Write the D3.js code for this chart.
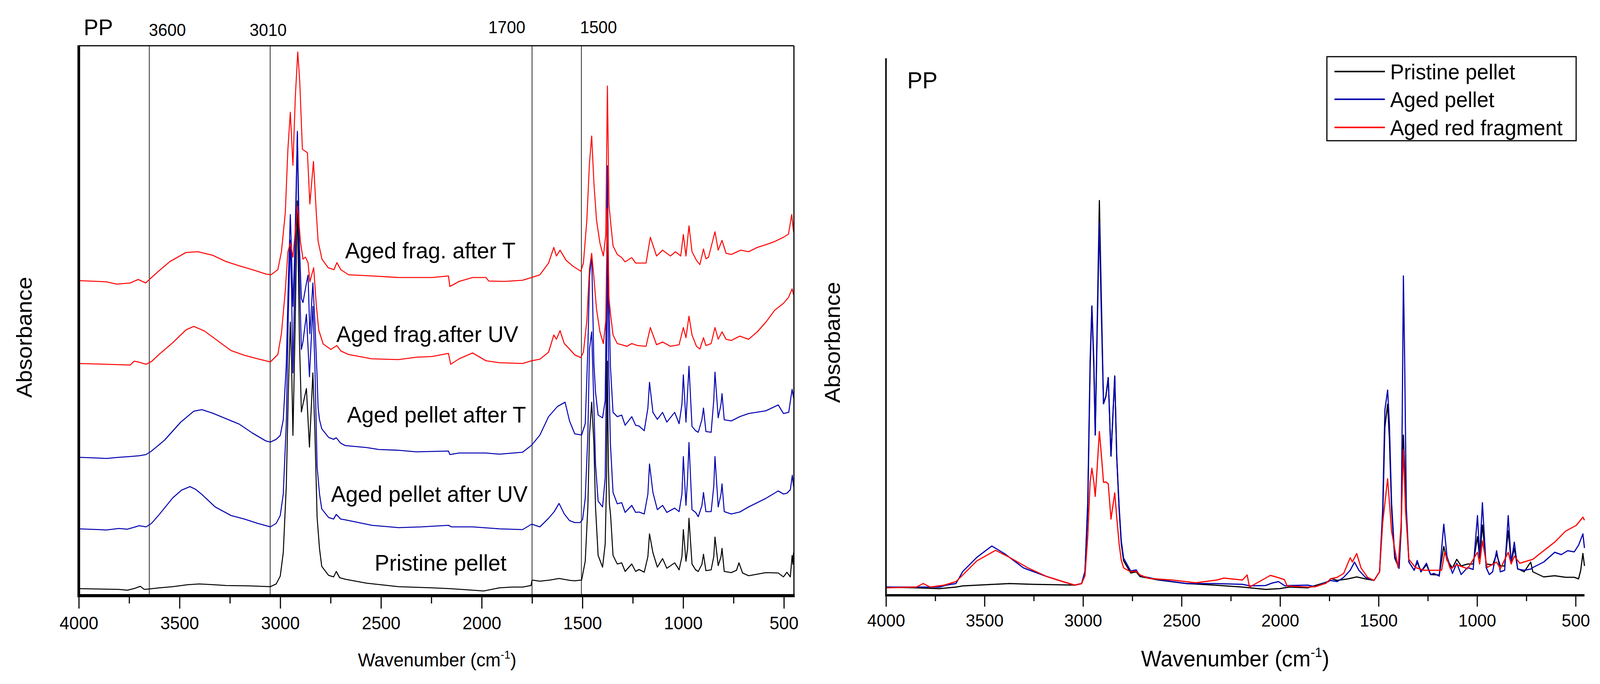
<!DOCTYPE html>
<html><head><meta charset="utf-8">
<script src="https://cdn.jsdelivr.net/npm/d3@7/dist/d3.min.js"></script>
<style>html,body{margin:0;padding:0;background:#fff;overflow:hidden;}svg{display:block;}</style>
</head><body>
<script>
// ---------------- DATA ----------------
const majorTicks = [4000,3500,3000,2500,2000,1500,1000,500];
const minorTicks = [3750,3250,2750,2250,1750,1250,750];
const markerLines = [3650,3050,1750,1505];
const markerLabels = ["3600","3010","1700","1500"];
const leftNames = ["Aged frag. after T","Aged frag.after UV","Aged pellet after T","Aged pellet after UV","Pristine pellet"];
const rightNames = ["Pristine pellet","Aged pellet","Aged red fragment"];

// left panel spectra: [wavenumber, absorbance (offset, a.u.)]
const leftPristine = [[4000,.018],[3900,.017],[3800,.016],[3758,.014],[3720,.019],[3695,.024],[3675,.016],[3653,.017],[3600,.020],[3534,.023],[3460,.028],[3402,.030],[3330,.028],[3270,.026],[3150,.025],[3049,.023],[3020,.030],[3000,.050],[2985,.110],[2970,.280],[2960,.520],[2950,.700],[2944,.600],[2937,.410],[2928,.640],[2915,1.010],[2905,.660],[2895,.470],[2887,.490],[2870,.530],[2855,.380],[2838,.570],[2828,.420],[2817,.200],[2805,.120],[2794,.075],[2760,.052],[2735,.048],[2722,.062],[2705,.046],[2677,.042],[2572,.032],[2413,.023],[2300,.021],[2245,.020],[2160,.018],[2100,.016],[2045,.014],[1990,.012],[1912,.020],[1850,.022],[1797,.022],[1755,.026],[1750,.040],[1711,.037],[1660,.040],[1616,.044],[1560,.039],[1538,.038],[1504,.040],[1486,.088],[1473,.227],[1465,.411],[1454,.495],[1443,.389],[1435,.227],[1422,.103],[1400,.073],[1387,.132],[1380,.300],[1376,.600],[1371,.330],[1366,.235],[1360,.205],[1348,.103],[1327,.081],[1305,.084],[1288,.062],[1255,.081],[1236,.062],[1219,.067],[1193,.060],[1175,.100],[1167,.158],[1150,.110],[1128,.073],[1102,.095],[1081,.070],[1042,.084],[1020,.066],[1006,.100],[999,.169],[986,.088],[978,.120],[971,.198],[956,.081],[938,.066],[925,.062],[907,.080],[899,.106],[887,.064],[861,.066],[848,.100],[842,.150],[826,.077],[812,.100],[807,.121],[796,.062],[761,.059],[735,.065],[723,.084],[705,.058],[675,.051],[589,.059],[528,.058],[502,.048],[485,.060],[468,.048],[459,.103],[455,.080],[452,.110]];

const leftPelletUV = [[4000,.171],[3900,.169],[3864,.168],[3800,.172],[3760,.170],[3732,.174],[3700,.179],[3666,.176],[3639,.185],[3600,.208],[3534,.250],[3490,.270],[3448,.279],[3420,.272],[3389,.259],[3323,.227],[3244,.205],[3178,.196],[3112,.185],[3049,.176],[3020,.185],[3000,.205],[2985,.260],[2970,.440],[2960,.720],[2950,.910],[2944,.780],[2937,.570],[2928,.800],[2915,1.188],[2905,.820],[2895,.630],[2887,.650],[2870,.720],[2855,.560],[2838,.740],[2828,.590],[2817,.330],[2805,.260],[2794,.222],[2760,.200],[2735,.196],[2722,.208],[2700,.196],[2677,.194],[2545,.180],[2413,.174],[2300,.176],[2165,.180],[2150,.176],[2045,.176],[1912,.171],[1797,.169],[1752,.183],[1711,.176],[1668,.198],[1640,.215],[1616,.236],[1590,.209],[1564,.192],[1538,.187],[1512,.187],[1499,.195],[1486,.249],[1473,.411],[1465,.631],[1454,.675],[1443,.484],[1435,.337],[1422,.242],[1400,.227],[1387,.301],[1380,.600],[1376,.906],[1370,.600],[1361,.389],[1348,.264],[1327,.235],[1305,.238],[1288,.213],[1255,.231],[1236,.213],[1219,.214],[1193,.209],[1175,.260],[1167,.337],[1150,.264],[1128,.220],[1102,.231],[1081,.213],[1042,.224],[1020,.215],[1006,.260],[999,.356],[986,.231],[978,.300],[971,.392],[956,.220],[938,.213],[925,.202],[907,.230],[899,.264],[887,.215],[861,.215],[848,.280],[842,.356],[826,.227],[812,.260],[807,.286],[796,.215],[761,.209],[719,.214],[675,.227],[589,.249],[528,.268],[502,.260],[485,.262],[468,.271],[458,.308],[452,.279]];

const leftPelletT = [[4000,.354],[3900,.352],[3864,.351],[3800,.354],[3745,.356],[3700,.358],[3666,.361],[3639,.370],[3574,.398],[3494,.444],[3429,.472],[3389,.476],[3336,.467],[3270,.453],[3204,.439],[3138,.416],[3072,.396],[3049,.393],[3020,.400],[3000,.410],[2985,.450],[2970,.590],[2960,.800],[2950,.975],[2944,.880],[2937,.740],[2928,.880],[2915,1.185],[2905,.900],[2895,.760],[2887,.750],[2870,.800],[2862,.820],[2853,.670],[2838,.800],[2828,.700],[2817,.560],[2812,.481],[2805,.450],[2794,.427],[2760,.405],[2735,.400],[2722,.404],[2700,.390],[2677,.384],[2572,.379],[2511,.374],[2413,.372],[2325,.368],[2165,.370],[2158,.361],[2112,.365],[1979,.365],[1912,.362],[1797,.367],[1752,.385],[1711,.411],[1668,.458],[1624,.484],[1586,.495],[1564,.447],[1538,.414],[1504,.411],[1486,.440],[1473,.631],[1465,.814],[1454,.873],[1443,.594],[1435,.521],[1422,.462],[1400,.455],[1387,.499],[1380,.800],[1376,1.100],[1370,.800],[1361,.587],[1348,.469],[1327,.458],[1305,.462],[1288,.436],[1255,.458],[1236,.436],[1219,.434],[1193,.422],[1175,.480],[1167,.546],[1150,.469],[1128,.451],[1102,.469],[1081,.444],[1042,.469],[1020,.440],[1006,.490],[999,.565],[986,.444],[978,.520],[971,.587],[956,.433],[938,.422],[925,.418],[907,.450],[899,.480],[887,.420],[861,.418],[848,.500],[842,.572],[826,.455],[812,.490],[807,.517],[796,.450],[761,.447],[719,.458],[675,.466],[589,.473],[528,.488],[502,.466],[476,.469],[459,.528],[452,.506]];

const leftFragUV = [[4000,.594],[3864,.592],[3800,.591],[3745,.590],[3725,.600],[3705,.598],[3666,.592],[3639,.599],[3600,.618],[3534,.647],[3468,.680],[3429,.689],[3376,.677],[3310,.652],[3244,.627],[3178,.615],[3112,.606],[3049,.598],[3012,.617],[2994,.671],[2975,.780],[2962,.880],[2950,.902],[2937,.866],[2925,.934],[2913,.997],[2900,.907],[2887,.861],[2875,.866],[2862,.852],[2853,.803],[2834,.839],[2821,.744],[2809,.680],[2787,.644],[2749,.630],[2719,.640],[2699,.626],[2661,.617],[2545,.606],[2413,.604],[2325,.610],[2245,.612],[2165,.620],[2154,.592],[2112,.606],[2045,.621],[1979,.601],[1912,.596],[1797,.594],[1752,.601],[1711,.605],[1668,.623],[1642,.667],[1629,.656],[1611,.678],[1590,.645],[1564,.631],[1538,.616],[1508,.609],[1495,.623],[1478,.704],[1465,.836],[1454,.876],[1443,.814],[1430,.733],[1413,.675],[1396,.645],[1384,.704],[1376,.990],[1368,.760],[1361,.723],[1348,.667],[1327,.645],[1305,.642],[1279,.638],[1255,.645],[1227,.640],[1184,.638],[1163,.686],[1132,.642],[1102,.649],[1063,.638],[1020,.642],[999,.686],[986,.660],[971,.715],[956,.667],[934,.638],[917,.631],[899,.660],[887,.640],[861,.645],[842,.686],[826,.656],[807,.675],[787,.656],[761,.653],[719,.664],[675,.656],[632,.675],[589,.700],[546,.730],[502,.748],[477,.763],[459,.785],[452,.770]];

const leftFragT = [[4000,.806],[3864,.803],[3811,.797],[3745,.800],[3705,.809],[3668,.800],[3639,.814],[3600,.832],[3547,.855],[3468,.878],[3409,.880],[3336,.871],[3270,.855],[3204,.844],[3138,.834],[3072,.823],[3046,.821],[3012,.834],[2994,.880],[2975,.979],[2962,1.142],[2950,1.237],[2937,1.101],[2925,1.278],[2913,1.391],[2903,1.314],[2890,1.142],[2878,1.138],[2865,1.133],[2853,1.002],[2835,1.111],[2821,.979],[2812,.907],[2793,.861],[2762,.839],[2733,.834],[2719,.852],[2699,.834],[2661,.821],[2545,.818],[2413,.814],[2325,.814],[2245,.814],[2165,.818],[2158,.791],[2112,.804],[2045,.814],[1979,.814],[1965,.805],[1886,.804],[1797,.807],[1752,.814],[1711,.821],[1668,.851],[1642,.891],[1629,.869],[1611,.884],[1581,.858],[1547,.843],[1508,.830],[1495,.851],[1478,.961],[1465,1.107],[1454,1.176],[1443,1.056],[1430,.961],[1413,.902],[1396,.869],[1384,.924],[1376,1.304],[1368,1.000],[1361,.961],[1348,.895],[1327,.873],[1305,.865],[1288,.854],[1255,.865],[1236,.851],[1184,.851],[1163,.917],[1132,.869],[1102,.884],[1063,.869],[1038,.880],[1012,.869],[999,.924],[986,.869],[971,.946],[956,.880],[934,.858],[917,.847],[899,.887],[887,.862],[874,.866],[842,.931],[826,.884],[807,.909],[787,.876],[761,.873],[714,.884],[675,.880],[632,.891],[589,.898],[546,.906],[502,.917],[477,.925],[461,.975],[452,.931]];

// right panel spectra
const rightPristine = [[4000,.021],[3846,.019],[3728,.017],[3645,.021],[3610,.024],[3492,.027],[3373,.030],[3255,.028],[3137,.027],[3042,.026],[3007,.030],[2990,.061],[2976,.222],[2964,.579],[2955,.740],[2945,.579],[2938,.410],[2929,.669],[2917,1.010],[2907,.758],[2896,.490],[2884,.508],[2872,.557],[2858,.356],[2839,.561],[2829,.356],[2817,.222],[2806,.133],[2794,.088],[2758,.057],[2730,.060],[2711,.048],[2617,.039],[2475,.030],[2333,.026],[2191,.021],[2073,.015],[2002,.017],[1954,.021],[1860,.019],[1755,.035],[1741,.043],[1710,.038],[1655,.042],[1611,.047],[1567,.042],[1523,.038],[1495,.060],[1479,.200],[1468,.430],[1454,.489],[1445,.400],[1434,.220],[1418,.095],[1396,.069],[1385,.170],[1379,.350],[1374,.410],[1368,.330],[1359,.200],[1346,.085],[1319,.064],[1304,.085],[1285,.060],[1257,.078],[1236,.053],[1192,.052],[1169,.125],[1153,.090],[1125,.070],[1103,.092],[1081,.075],[1048,.080],[1020,.080],[998,.150],[987,.095],[973,.180],[954,.080],[921,.078],[901,.105],[882,.075],[860,.075],[842,.165],[827,.085],[811,.120],[794,.068],[761,.060],[728,.085],[717,.060],[662,.047],[606,.050],[551,.046],[507,.046],[485,.042],[474,.064],[463,.107],[455,.075]];

const rightPellet = [[4000,.021],[3846,.021],[3728,.021],[3693,.026],[3645,.030],[3610,.061],[3539,.097],[3463,.126],[3397,.106],[3302,.070],[3184,.048],[3090,.033],[3042,.026],[3007,.030],[2990,.061],[2976,.240],[2964,.600],[2955,.740],[2945,.600],[2938,.410],[2929,.650],[2917,.954],[2907,.720],[2896,.490],[2884,.510],[2872,.557],[2858,.356],[2839,.561],[2829,.356],[2817,.230],[2806,.140],[2794,.095],[2758,.062],[2730,.065],[2711,.050],[2617,.040],[2475,.030],[2333,.030],[2191,.028],[2152,.024],[2073,.025],[2042,.031],[2008,.035],[1975,.024],[1954,.025],[1860,.026],[1821,.022],[1744,.038],[1710,.035],[1677,.046],[1644,.064],[1622,.085],[1600,.064],[1567,.046],[1523,.038],[1495,.060],[1479,.222],[1468,.474],[1454,.525],[1445,.438],[1434,.237],[1418,.100],[1396,.069],[1385,.186],[1379,.512],[1374,.817],[1368,.618],[1359,.222],[1346,.085],[1319,.064],[1304,.089],[1285,.060],[1257,.082],[1236,.053],[1219,.056],[1192,.049],[1169,.182],[1153,.100],[1125,.056],[1103,.082],[1081,.053],[1048,.071],[1020,.066],[998,.204],[987,.100],[973,.237],[954,.071],[938,.053],[921,.060],[901,.114],[882,.060],[860,.064],[842,.204],[827,.085],[811,.136],[794,.067],[761,.064],[728,.067],[717,.071],[662,.085],[606,.110],[573,.104],[540,.114],[507,.111],[485,.128],[463,.157],[455,.121]];

const rightFragment = [[4000,.019],[3846,.021],[3811,.030],[3775,.021],[3704,.026],[3645,.035],[3610,.052],[3539,.088],[3444,.115],[3373,.097],[3279,.070],[3184,.048],[3090,.033],[3042,.026],[3007,.030],[2990,.050],[2976,.150],[2964,.290],[2955,.325],[2945,.290],[2938,.253],[2929,.320],[2917,.419],[2907,.360],[2896,.289],[2884,.290],[2872,.285],[2858,.195],[2839,.262],[2829,.200],[2817,.133],[2806,.090],[2794,.070],[2758,.060],[2730,.062],[2711,.052],[2664,.043],[2546,.039],[2427,.032],[2321,.039],[2285,.044],[2191,.039],[2167,.052],[2155,.021],[2073,.044],[2049,.051],[2002,.044],[1978,.040],[1964,.024],[1860,.021],[1821,.022],[1766,.031],[1744,.042],[1710,.046],[1677,.056],[1644,.096],[1633,.085],[1611,.107],[1589,.070],[1556,.046],[1523,.038],[1495,.060],[1479,.186],[1454,.298],[1434,.164],[1401,.071],[1385,.186],[1374,.373],[1363,.215],[1346,.092],[1313,.071],[1269,.064],[1214,.064],[1180,.064],[1164,.110],[1136,.068],[1103,.078],[1048,.068],[998,.110],[987,.080],[973,.139],[949,.071],[901,.085],[882,.068],[842,.110],[827,.080],[811,.100],[783,.082],[717,.092],[662,.114],[606,.136],[551,.164],[496,.179],[463,.200],[455,.192]];

// ---------------- LAYOUT ----------------
const W = 4224, H = 1750;
const FONT = "'Liberation Sans', Arial, Helvetica, sans-serif";
const colors = {black:"#000000", blue:"#0000b0", red:"#ff0000"};

const vw = window.innerWidth || W, vh = window.innerHeight || H;
const svg = d3.select("body").append("svg")
  .attr("width", vw).attr("height", vh)
  .attr("viewBox", `0 0 ${W} ${H}`).attr("preserveAspectRatio", "none")
  .style("font-family", FONT);
svg.append("rect").attr("width", W).attr("height", H).attr("fill", "#fff");

// ---------- LEFT PANEL ----------
const L = {x0:208, x1:2096, y0:117, y1:1524};
const xL = d3.scaleLinear().domain([4000, 450]).range([L.x0, L.x1]);
const yL = d3.scaleLinear().domain([0, 1.407]).range([L.y1, L.y0]);
const gL = svg.append("g");

gL.selectAll("line.marker").data(markerLines).enter().append("line")
  .attr("x1", d => xL(d)).attr("x2", d => xL(d))
  .attr("y1", L.y0).attr("y2", L.y1)
  .attr("stroke", "#222").attr("stroke-width", 2);

const lineL = d3.line().x(d => xL(d[0])).y(d => yL(d[1]));
const leftSeries = [
  {d: leftPelletT, c: colors.blue},
  {d: leftPelletUV, c: colors.blue},
  {d: leftPristine, c: colors.black},
  {d: leftFragUV, c: colors.red},
  {d: leftFragT, c: colors.red}
];
gL.selectAll("path.spec").data(leftSeries).enter().append("path")
  .attr("d", s => lineL(s.d)).attr("fill", "none")
  .attr("stroke", s => s.c).attr("stroke-width", 2.6).attr("stroke-linejoin", "round");

// frame
gL.append("line").attr("x1", L.x0).attr("x2", L.x1).attr("y1", L.y0).attr("y2", L.y0).attr("stroke", "#000").attr("stroke-width", 3);
gL.append("line").attr("x1", L.x1).attr("x2", L.x1).attr("y1", L.y0).attr("y2", L.y1).attr("stroke", "#000").attr("stroke-width", 3);
gL.append("line").attr("x1", L.x0).attr("x2", L.x0).attr("y1", L.y0 - 1).attr("y2", L.y1 + 4).attr("stroke", "#000").attr("stroke-width", 7);
gL.append("line").attr("x1", L.x0 - 3).attr("x2", L.x1 + 2).attr("y1", L.y1).attr("y2", L.y1).attr("stroke", "#000").attr("stroke-width", 8);

function drawAxis(g, x, yPos, majorLen, minorLen, fontSize, labelBaseline) {
  const ax = g.append("g").attr("transform", `translate(0,${yPos})`)
    .call(d3.axisBottom(x).tickValues(majorTicks).tickSize(majorLen).tickFormat(d3.format("d")));
  ax.select(".domain").remove();
  ax.selectAll(".tick line").attr("stroke", "#000").attr("stroke-width", 3);
  ax.selectAll(".tick text").attr("font-size", fontSize).attr("font-family", FONT)
    .attr("fill", "#000").attr("y", labelBaseline).attr("dy", 0);
  const mi = g.append("g").attr("transform", `translate(0,${yPos})`)
    .call(d3.axisBottom(x).tickValues(minorTicks).tickSize(minorLen).tickFormat(""));
  mi.select(".domain").remove();
  mi.selectAll(".tick line").attr("stroke", "#000").attr("stroke-width", 3);
}
drawAxis(gL, xL, L.y1, 33, 20, 46, 86);

function xTitle(g, cx, baseline, size) {
  const t = g.append("text").attr("x", cx).attr("y", baseline).attr("text-anchor", "middle")
    .attr("font-size", size).attr("fill", "#000");
  t.append("tspan").text("Wavenumber (cm");
  t.append("tspan").text("-1").attr("font-size", size * 0.6).attr("dy", -size * 0.42);
  t.append("tspan").text(")").attr("dy", size * 0.42);
}
xTitle(gL, 1154, 1705, 48);
gL.append("text").attr("transform", "translate(84,863) rotate(-90)").attr("text-anchor", "middle")
  .attr("font-size", 58).attr("fill", "#000").text("Absorbance");
gL.append("text").attr("x", 221).attr("y", 90).attr("font-size", 58).attr("fill", "#000").text("PP");

const markerLabelPos = [{x:393, a:"start"}, {x:708, a:"middle"}, {x:1338, a:"middle"}, {x:1580, a:"middle"}];
const markerLabelY = [92, 92, 85, 85];
gL.selectAll("text.mk").data(markerLabels).enter().append("text")
  .attr("x", (d, i) => markerLabelPos[i].x).attr("y", (d, i) => markerLabelY[i])
  .attr("text-anchor", (d, i) => markerLabelPos[i].a)
  .attr("font-size", 44).attr("fill", "#000").text(d => d);

const leftLabelPos = [[911,661],[888,875],[916,1081],[874,1284],[989,1460]];
gL.selectAll("text.sl").data(leftNames).enter().append("text")
  .attr("x", (d, i) => leftLabelPos[i][0]).attr("y", (d, i) => leftLabelPos[i][1])
  .attr("font-size", 58).attr("fill", "#000").text(d => d);

// ---------- RIGHT PANEL ----------
const R = {x0:2339, x1:4183, y0:149, y1:1523};
const xR = d3.scaleLinear().domain([4000, 455]).range([R.x0, R.x1]);
const yR = d3.scaleLinear().domain([0, 1.374]).range([R.y1, R.y0]);
const gR = svg.append("g");
const lineR = d3.line().x(d => xR(d[0])).y(d => yR(d[1]));
const rightSeries = [
  {d: rightPristine, c: colors.black},
  {d: rightPellet, c: colors.blue},
  {d: rightFragment, c: colors.red}
];
gR.selectAll("path.spec").data(rightSeries).enter().append("path")
  .attr("d", s => lineR(s.d)).attr("fill", "none")
  .attr("stroke", s => s.c).attr("stroke-width", 3).attr("stroke-linejoin", "round");

gR.append("line").attr("x1", R.x0).attr("x2", R.x0).attr("y1", R.y0).attr("y2", R.y1 + 3).attr("stroke", "#000").attr("stroke-width", 4);
gR.append("line").attr("x1", R.x0 - 2).attr("x2", R.x1).attr("y1", R.y1).attr("y2", R.y1).attr("stroke", "#000").attr("stroke-width", 6);
drawAxis(gR, xR, R.y1, 29, 15, 45, 80);
xTitle(gR, 3261, 1705, 57);
gR.append("text").attr("transform", "translate(2217,876) rotate(-90)").attr("text-anchor", "middle")
  .attr("font-size", 58).attr("fill", "#000").text("Absorbance");
gR.append("text").attr("x", 2395).attr("y", 226).attr("font-size", 60).attr("fill", "#000").text("PP");

// legend
const leg = gR.append("g");
leg.append("rect").attr("x", 3503).attr("y", 145).attr("width", 658).attr("height", 215)
  .attr("fill", "#fff").attr("stroke", "#000").attr("stroke-width", 3);
const legColors = [colors.black, colors.blue, colors.red];
const legY = [183, 254, 326];
rightNames.forEach((n, i) => {
  leg.append("line").attr("x1", 3523).attr("x2", 3656).attr("y1", legY[i]).attr("y2", legY[i])
    .attr("stroke", legColors[i]).attr("stroke-width", 4);
  leg.append("text").attr("x", 3670).attr("y", legY[i] + 20).attr("font-size", 55).attr("fill", "#000").text(n);
});
</script>
</body></html>
